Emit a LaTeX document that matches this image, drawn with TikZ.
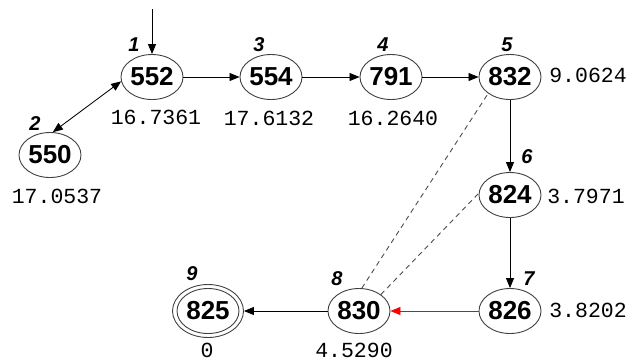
\documentclass[tikz,border=0pt]{standalone}
\usepackage{fontspec}
\setmainfont{Liberation Sans}
\newfontfamily\monof{Liberation Mono}
\usetikzlibrary{arrows.meta,shapes.geometric}
\tikzset{
 st/.style={ellipse, draw=black!75, line width=0.9pt, minimum width=62pt, minimum height=45pt, inner sep=0pt, font=\fontsize{26}{26}\selectfont\bfseries},
 outer/.style={ellipse, draw=black!75, line width=0.9pt, minimum width=71pt, minimum height=53pt, inner sep=0pt},
 idx/.style={inner sep=0pt, font=\fontsize{20}{20}\selectfont\bfseries\itshape},
 val/.style={inner sep=0pt, font=\fontsize{21.5}{21.5}\selectfont\monof},
 arr/.style={->, line width=0.85pt},
 dsh/.style={dash pattern=on 5pt off 4pt, draw=black!70, line width=0.9pt}
}
\begin{document}
\begin{tikzpicture}[x=1pt,y=-1pt,>={Triangle[length=10pt,width=8pt]}]
\useasboundingbox (0,0) rectangle (632,360);
% states
\node[st] (n552) at (152,77) {552};
\node[st] (n554) at (271,77) {554};
\node[st] (n791) at (391,77) {791};
\node[st] (n832) at (510,77) {832};
\node[st] (n550) at (50,155) {550};
\node[st] (n824) at (510,195) {824};
\node[st] (n826) at (510,311) {826};
\node[st] (n830) at (359,311) {830};
\node[outer] (n825) at (208,311) {};
\node[st] (n825i) at (208,311) {825};
% step numbers
\node[idx] (i1) at (134,45) {1};
\node[idx] (i2) at (35,124) {2};
\node[idx] (i3) at (259,45) {3};
\node[idx] (i4) at (383,45) {4};
\node[idx] (i5) at (507,45) {5};
\node[idx] (i6) at (527,157) {6};
\node[idx] (i7) at (529,279) {7};
\node[idx] (i8) at (337,279) {8};
\node[idx] (i9) at (192,274) {9};
% values
\node[val] (v1) at (156,117) {16.7361};
\node[val] (v3) at (269,118) {17.6132};
\node[val] (v4) at (393,118) {16.2640};
\node[val] (v5) at (588,75) {9.0624};
\node[val] (v2) at (57,196) {17.0537};
\node[val] (v6) at (586,196) {3.7971};
\node[val] (v7) at (588,310) {3.8202};
\node[val] (v8) at (354,350) {4.5290};
\node[val] (v9) at (207,350) {0};
% connectors
\coordinate (start) at (152,9);
\draw[arr] (start) -- (n552.north);
\draw[arr] (n552.east) -- (n554.west);
\draw[arr] (n554.east) -- (n791.west);
\draw[arr] (n791.east) -- (n832.west);
\draw[<->, line width=0.85pt] (n550.83) -- (n552.188);
\draw[arr] (n832.south) -- (n824.north);
\draw[arr] (n824.south) -- (n826.north);
\draw[arr, red] (n826.west) -- (n830.east);
\draw[arr] (n830.west) -- (n825.east);
\draw[dsh] (n830.83) -- (n832.217);
\draw[dsh] (n830.37) -- (n824.177);
\end{tikzpicture}
\end{document}
